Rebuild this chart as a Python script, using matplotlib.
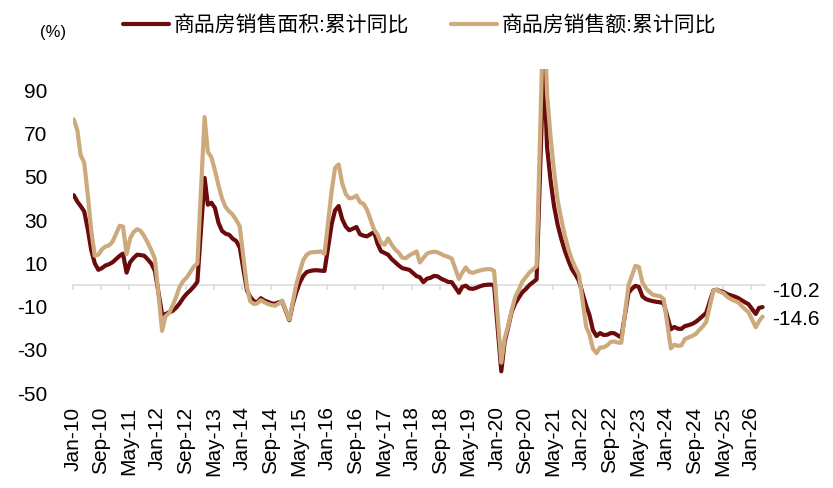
import numpy as np
import pandas as pd
import matplotlib
matplotlib.use('Agg')
import matplotlib.pyplot as plt
import matplotlib.dates as mdates

plt.rcParams['font.family'] = ['Liberation Sans', 'Noto Sans CJK SC']
plt.rcParams['axes.unicode_minus'] = False

nan = np.nan

# 商品房销售面积:累计同比 (%), Jan..Dec per year (Jan folded into Jan-Feb after 2010)
area_2010 = [41.5, 38.5, 36.5, 34.0, 26.0, 16.0, 10.0, 7.0, 7.8, 9.0, 9.6, 10.5]
area_2011 = [nan, 13.5, 14.5, 5.7, 10.5, 12.5, 14.0, 13.8, 13.5, 11.8, 9.8, 6.5]
area_2012 = [nan, -13.6, -13.5, -12.6, -12.0, -10.5, -8.5, -6.0, -4.0, -2.5, -0.7, 1.5]
area_2013 = [nan, 49.5, 37.1, 38.0, 35.6, 28.7, 25.0, 23.7, 23.2, 21.4, 20.3, 17.3]
area_2014 = [nan, -2.5, -5.5, -7.5, -8.0, -6.1, -7.2, -7.8, -8.5, -8.7, -8.0, -7.6]
area_2015 = [nan, -16.3, -9.2, -3.5, 1.0, 4.2, 6.0, 6.5, 6.8, 6.8, 6.6, 6.5]
area_2016 = [nan, 28.2, 34.5, 36.5, 30.5, 27.0, 25.3, 26.0, 26.8, 23.5, 22.8, 22.5]
area_2017 = [nan, 24.5, 19.2, 15.6, 14.8, 14.0, 12.0, 10.5, 9.0, 7.8, 7.4, 7.0]
area_2018 = [nan, 4.1, 3.6, 1.3, 2.9, 3.3, 4.2, 4.0, 2.9, 2.2, 1.4, 1.3]
area_2019 = [nan, -3.6, -0.9, -0.3, -1.6, -1.8, -1.3, -0.6, -0.1, 0.1, 0.2, -0.1]
area_2020 = [nan, -39.9, -26.3, -19.3, -12.3, -8.4, -5.8, -3.3, -1.8, 0.0, 1.3, 2.6]
area_2021 = [nan, 104.9, 63.8, 48.1, 36.3, 27.7, 21.5, 15.9, 11.3, 7.3, 4.8, 1.9]
area_2022 = [nan, -9.6, -13.8, -20.9, -23.6, -22.2, -23.1, -23.0, -22.2, -22.3, -23.3, -24.3]
area_2023 = [nan, -3.6, -1.8, -0.4, -0.9, -5.3, -6.5, -7.1, -7.5, -7.8, -8.0, -8.5]
area_2024 = [nan, -20.5, -19.4, -20.2, -20.3, -19.0, -18.6, -18.0, -17.1, -15.8, -14.3, -12.9]
area_2025 = [nan, -2.5, -2.2, -2.8, -3.3, -4.2, -4.8, -5.3, -6.0, -7.0, -8.0, -8.9]
area_2026 = [nan, -13.4, -10.6, -10.2]

# 商品房销售额:累计同比 (%)
amount_2010 = [76.5, 71.5, 60.0, 56.5, 42.0, 25.0, 13.5, 14.0, 16.5, 17.8, 18.3, 20.0]
amount_2011 = [nan, 27.4, 27.0, 14.3, 21.5, 24.5, 25.8, 25.0, 22.5, 19.5, 16.0, 12.1]
amount_2012 = [nan, -21.2, -14.5, -13.0, -9.6, -5.5, -0.8, 1.8, 3.5, 6.0, 8.5, 10.0]
amount_2013 = [nan, 77.6, 61.5, 59.0, 53.0, 46.0, 40.0, 36.0, 34.0, 32.5, 30.0, 27.0]
amount_2014 = [nan, -1.0, -7.5, -8.8, -8.5, -7.0, -8.0, -8.8, -9.3, -9.6, -8.6, -7.2]
amount_2015 = [nan, -16.0, -8.5, 0.0, 6.0, 11.5, 14.0, 15.0, 15.2, 15.3, 15.5, 14.4]
amount_2016 = [nan, 43.6, 54.1, 55.7, 47.1, 42.1, 40.1, 40.3, 41.3, 38.3, 37.5, 34.8]
amount_2017 = [nan, 25.5, 23.5, 19.5, 18.6, 21.5, 18.7, 16.4, 14.9, 12.6, 12.4, 13.7]
amount_2018 = [nan, 15.5, 10.4, 12.5, 14.5, 15.1, 15.4, 15.1, 14.3, 13.5, 13.0, 12.2]
amount_2019 = [nan, 2.8, 5.6, 8.1, 6.1, 5.6, 6.2, 6.7, 7.1, 7.3, 7.3, 6.5]
amount_2020 = [nan, -35.9, -24.7, -18.6, -11.6, -5.4, -2.1, 1.6, 3.7, 5.8, 7.2, 8.7]
amount_2021 = [nan, 133.4, 88.5, 68.2, 52.4, 38.9, 30.7, 22.9, 16.6, 11.8, 8.0, 4.8]
amount_2022 = [nan, -19.3, -22.7, -29.5, -31.5, -28.9, -28.8, -27.9, -26.3, -26.1, -26.6, -26.7]
amount_2023 = [nan, -0.1, 4.1, 8.8, 8.4, 1.1, -1.5, -3.2, -4.6, -4.9, -5.2, -6.5]
amount_2024 = [nan, -29.3, -27.6, -28.1, -27.9, -25.0, -24.3, -23.6, -22.7, -20.9, -19.2, -17.1]
amount_2025 = [nan, -2.6, -2.1, -3.2, -3.8, -5.5, -6.5, -7.3, -7.9, -9.6, -11.2, -12.6]
amount_2026 = [nan, -19.5, -16.8, -14.6]

label_area = '商品房销售面积:累计同比'
label_amount = '商品房销售额:累计同比'
y_ticks = [-50, -30, -10, 10, 30, 50, 70, 90]

area = np.concatenate([area_2010, area_2011, area_2012, area_2013, area_2014, area_2015,
                       area_2016, area_2017, area_2018, area_2019, area_2020, area_2021,
                       area_2022, area_2023, area_2024, area_2025, area_2026])
amount = np.concatenate([amount_2010, amount_2011, amount_2012, amount_2013, amount_2014,
                         amount_2015, amount_2016, amount_2017, amount_2018, amount_2019,
                         amount_2020, amount_2021, amount_2022, amount_2023, amount_2024,
                         amount_2025, amount_2026])
months = pd.date_range('2010-01-01', periods=len(area), freq='MS') + pd.Timedelta(days=9)
tick_dates = pd.date_range('2010-01-01', '2026-01-01', freq='8MS')

dark = '#6b0b0b'
tan = '#cdaa7d'
grey = '#d9d9d9'

fig = plt.figure(figsize=(8.33, 4.88), dpi=100)
ax = fig.add_axes([0.0873, 0.1943, 0.8311, 0.6651])

ok_a = ~np.isnan(area)
ok_m = ~np.isnan(amount)
l1, = ax.plot(months[ok_a], area[ok_a], color=dark, lw=3,
              solid_joinstyle='round', solid_capstyle='round')
l2, = ax.plot(months[ok_m], amount[ok_m], color=tan, lw=3,
              solid_joinstyle='round', solid_capstyle='round')

ax.set_xlim(pd.Timestamp('2010-01-01'), pd.Timestamp('2026-05-01'))
ax.set_ylim(-50, 100)
ax.set_yticks(y_ticks)
ax.set_xticks(tick_dates)
ax.xaxis.set_major_formatter(mdates.DateFormatter('%b-%y'))
ax.tick_params(axis='x', length=0, pad=9.5, labelsize=15, labelrotation=90)
ax.tick_params(axis='y', length=0, pad=18, labelsize=15)
for s in ax.spines.values():
    s.set_visible(False)

# grey zero line with its little ticks
y0, y1 = ax.get_ylim()
zero = ax.secondary_xaxis((0 - y0) / (y1 - y0))
zero.set_xticks(mdates.date2num(tick_dates))
zero.tick_params(axis='x', labelbottom=False, labeltop=False, length=3.5, width=1.1,
                 color=grey, direction='out')
for s in zero.spines.values():
    s.set_visible(False)
zero.spines['bottom'].set_visible(True)
zero.spines['bottom'].set_color(grey)
zero.spines['bottom'].set_linewidth(1.1)

# last values on the right
ax.annotate(f'{area[ok_a][-1]:.1f}', xy=(months[ok_a][-1], area[ok_a][-1]),
            xytext=(7, 11), textcoords='offset points', ha='left', va='center',
            fontsize=15, annotation_clip=False)
ax.annotate(f'{amount[ok_m][-1]:.1f}', xy=(months[ok_m][-1], amount[ok_m][-1]),
            xytext=(7, -2), textcoords='offset points', ha='left', va='center',
            fontsize=15, annotation_clip=False)

fig.legend([l1, l2], [label_area, label_amount], loc='center',
           bbox_to_anchor=(0.5036, 0.949), ncol=2, frameon=False, fontsize=15,
           handlelength=2.2, handletextpad=0.25, columnspacing=2.0)
fig.text(53 / 833, 1 - 33 / 488, '(%)', ha='center', va='center', fontsize=12)

fig.savefig('out.png', dpi=100)
